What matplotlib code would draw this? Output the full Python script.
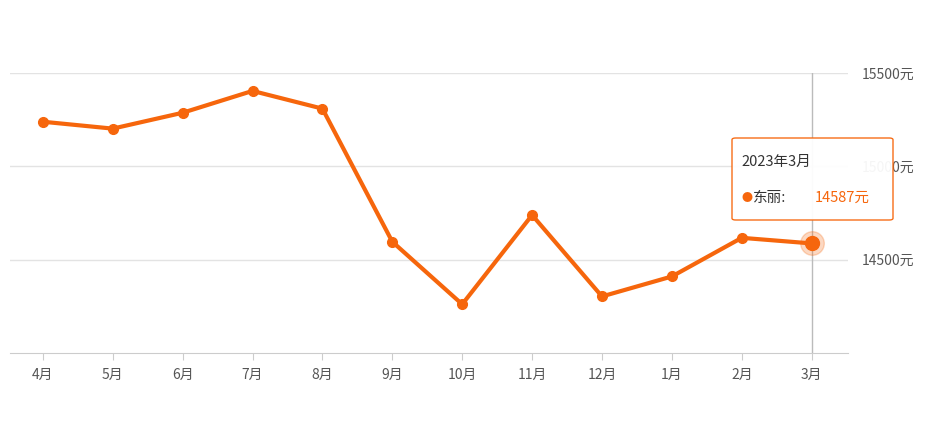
import matplotlib
matplotlib.use("Agg")
import matplotlib.pyplot as plt
from matplotlib.patches import FancyBboxPatch

plt.rcParams['font.family'] = ['Noto Sans CJK SC', 'DejaVu Sans']

months = ["4月", "5月", "6月", "7月", "8月", "9月", "10月", "11月", "12月", "1月", "2月", "3月"]
prices = [15239, 15202, 15287, 15404, 15309, 14596, 14261, 14739, 14303, 14410, 14617, 14587]
yticks = [14500, 15000, 15500]
ytick_labels = ["14500元", "15000元", "15500元"]
series_name = "东丽"
tooltip_title = "2023年3月"

W, H = 930, 429
fig = plt.figure(figsize=(W / 100, H / 100), dpi=100)
ax = fig.add_axes([10 / W, 1 - 353 / H, (848 - 10) / W, (353 - 73) / H])
color = "#f6660c"

x = list(range(len(months)))
ax.set_xlim(-0.47, len(months) - 1 + 0.52)
ax.set_ylim(14000, 15500)
for yt in yticks:
    ax.axhline(yt, color="#e3e3e3", lw=1, zorder=0)
ax.axvline(x[-1], color="#bbbbbb", lw=1, zorder=1)
ax.plot(x, prices, color=color, lw=3, marker="o", ms=7, zorder=3)
ax.plot(x[-1], prices[-1], "o", color=color, ms=17, alpha=0.25, zorder=2)
ax.plot(x[-1], prices[-1], "o", color=color, ms=10, zorder=4)

for s in ["top", "left", "right"]:
    ax.spines[s].set_visible(False)
ax.spines["bottom"].set_color("#cccccc")
ax.set_xticks(x)
ax.set_xticklabels(months, fontsize=10, color="#555555")
ax.tick_params(axis="x", length=5, color="#cccccc", pad=6)
ax.yaxis.tick_right()
ax.set_yticks(yticks)
ax.set_yticklabels(ytick_labels, fontsize=10, color="#555555")
ax.tick_params(axis="y", length=0, pad=10)

# tooltip
box = FancyBboxPatch((732 / W, 1 - 220 / H), 161 / W, 82 / H,
                     boxstyle="round,pad=0,rounding_size=0.004",
                     transform=fig.transFigure, facecolor="white",
                     edgecolor=color, lw=1, alpha=0.95, zorder=10)
fig.add_artist(box)
fig.text(741 / W, 1 - 162 / H, tooltip_title, fontsize=10.5, color="#333333", va="center", zorder=11)
fig.text(741 / W, 1 - 198 / H, "●", fontsize=8, color=color, va="center", zorder=11)
fig.text(753 / W, 1 - 198 / H, series_name + ":", fontsize=10.5, color="#333333", va="center", zorder=11)
fig.text(815 / W, 1 - 198 / H, f"{prices[-1]}元", fontsize=10.5, color=color, va="center", zorder=11)

fig.savefig("out.png", dpi=100)
